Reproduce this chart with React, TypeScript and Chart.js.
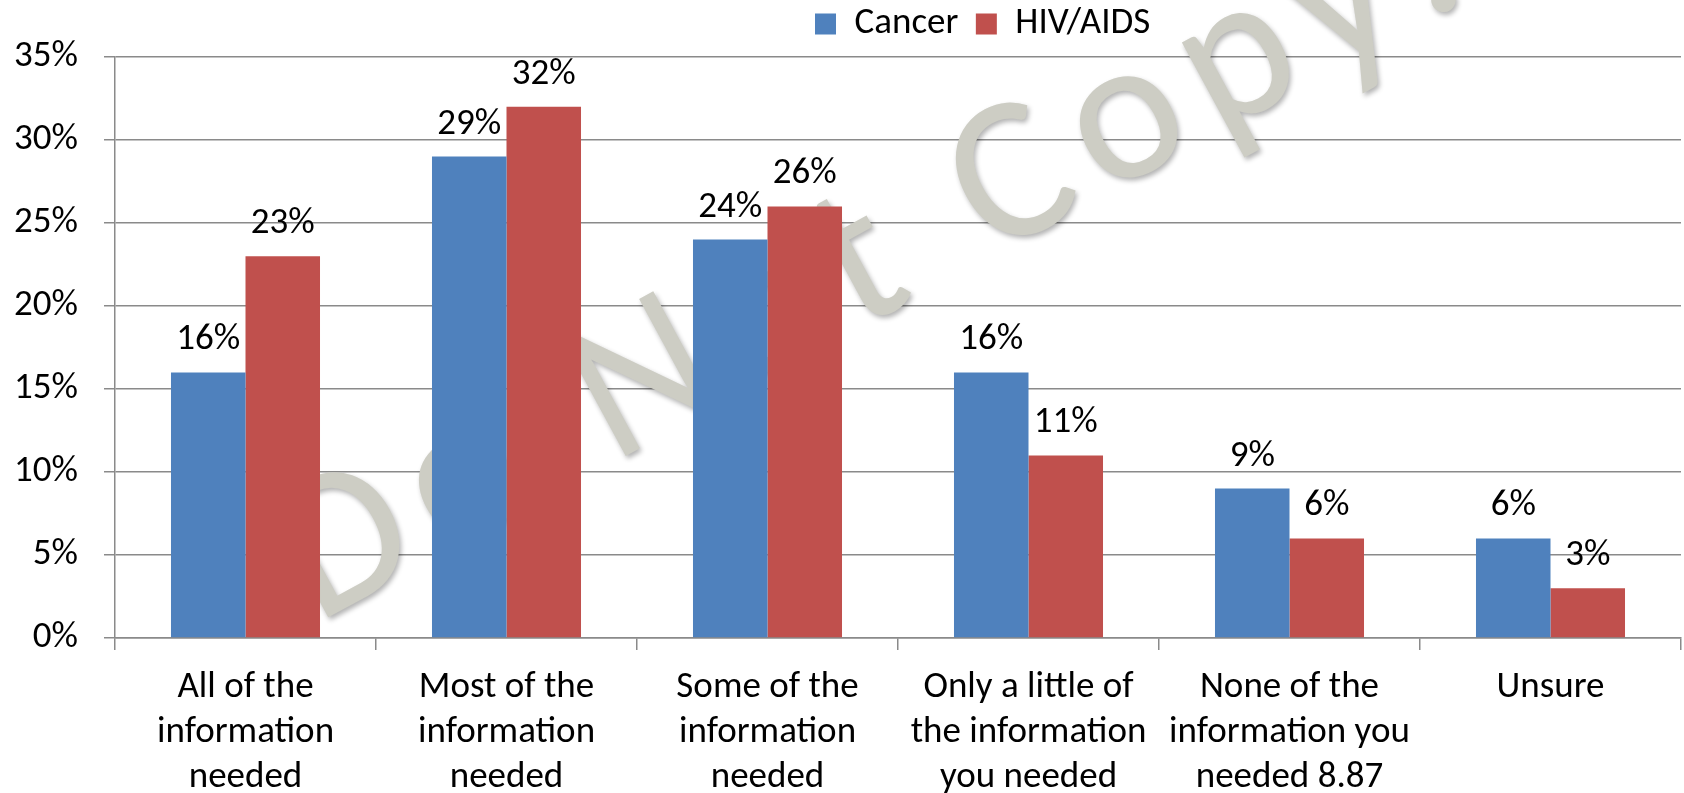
import React, { useEffect, useRef } from "react";
import { Chart, registerables } from "chart.js";

Chart.register(...registerables);

// ---- data ----
const categories: string[][] = [
  ["All of the", "information", "needed"],
  ["Most of the", "information", "needed"],
  ["Some of the", "information", "needed"],
  ["Only a little of", "the information", "you needed"],
  ["None of the", "information you", "needed 8.87"],
  ["Unsure"],
];
const seriesNames = ["Cancer", "HIV/AIDS"];
const cancerValues = [16, 29, 24, 16, 9, 6];
const hivValues = [23, 32, 26, 11, 6, 3];
const yMin = 0;
const yMax = 35;
const yStep = 5;
const watermarkText = "Do Not Copy.";

// ---- styles ----
const FONT = "Carlito, 'Liberation Sans', Arial, sans-serif";
const FS = 37;
const BLUE = "#4F81BD";
const RED = "#C0504D";
const GRID = "#8A8A8A";
const LEGEND_PAD = 17.5;

const watermarkPlugin = {
  id: "watermark",
  beforeDatasetsDraw(chart: any) {
    const ctx = chart.ctx;
    ctx.save();
    ctx.font = `205px ${FONT}`;
    ctx.translate(316, 624);
    ctx.rotate((-28.5 * Math.PI) / 180);
    ctx.fillStyle = "#CDCDC4";
    ctx.shadowColor = "rgba(0,0,0,0.30)";
    ctx.shadowBlur = 5;
    ctx.shadowOffsetX = 2;
    ctx.shadowOffsetY = 3;
    ctx.textAlign = "left";
    ctx.textBaseline = "alphabetic";
    let x = 0;
    for (const ch of watermarkText) {
      ctx.fillText(ch, x, 0);
      x += ctx.measureText(ch).width + 19;
    }
    ctx.restore();
  },
};

const valueLabelPlugin = {
  id: "valueLabels",
  afterDatasetsDraw(chart: any) {
    const ctx = chart.ctx;
    ctx.save();
    ctx.font = `${FS}px ${FONT}`;
    ctx.fillStyle = "#000";
    ctx.textAlign = "center";
    ctx.textBaseline = "alphabetic";
    chart.data.datasets.forEach((ds: any, di: number) => {
      const meta = chart.getDatasetMeta(di);
      meta.data.forEach((bar: any, i: number) => {
        ctx.fillText(`${ds.data[i]}%`, bar.x, bar.y - 23);
      });
    });
    ctx.restore();
  },
};

const legendPlacePlugin = {
  id: "legendPlace",
  afterLayout(chart: any) {
    const lg = chart.legend;
    if (!lg || !lg.lineWidths) return;
    const lw = lg.lineWidths[0];
    const x0 = (lg.left + LEGEND_PAD + lg.right - lw) / 2;
    const dx = 815 - x0;
    lg.left += dx;
    lg.right += dx;
    const h = lg.bottom - lg.top;
    lg.top = 24 - LEGEND_PAD - FS / 2;
    lg.bottom = lg.top + h;
  },
};

export default function App() {
  const canvasRef = useRef<HTMLCanvasElement | null>(null);

  useEffect(() => {
    if (!canvasRef.current) return;
    Chart.defaults.color = "#000";
    const chart = new Chart(canvasRef.current, {
      type: "bar",
      data: {
        labels: categories,
        datasets: [
          {
            label: seriesNames[0],
            data: cancerValues,
            backgroundColor: BLUE,
            borderWidth: 0,
            categoryPercentage: 0.571,
            barPercentage: 1,
          },
          {
            label: seriesNames[1],
            data: hivValues,
            backgroundColor: RED,
            borderWidth: 0,
            categoryPercentage: 0.571,
            barPercentage: 1,
          },
        ],
      },
      options: {
        animation: false,
        responsive: false,
        layout: { padding: { left: 0, right: 3, top: 0, bottom: 0 } },
        plugins: {
          legend: {
            position: "top",
            maxHeight: 57,
            labels: {
              font: { family: FONT, size: FS },
              color: "#000",
              boxWidth: 21,
              boxHeight: 21,
              padding: LEGEND_PAD,
            },
          },
          tooltip: { enabled: false },
        },
        scales: {
          x: {
            offset: true,
            grid: {
              offset: true,
              drawOnChartArea: false,
              drawTicks: true,
              tickLength: 12,
              color: GRID,
              lineWidth: 1.5,
            },
            border: { color: GRID, width: 1.5 },
            ticks: {
              font: { family: FONT, size: FS, lineHeight: 1.216 },
              color: "#000",
              padding: 15,
              maxRotation: 0,
              autoSkip: false,
            },
            afterFit: (s: any) => {
              s.height = 155;
            },
          },
          y: {
            min: yMin,
            max: yMax,
            ticks: {
              stepSize: yStep,
              callback: (v: any) => `${v}%`,
              font: { family: FONT, size: FS },
              color: "#000",
              padding: 26,
            },
            grid: { color: GRID, lineWidth: 1.5, tickLength: 11 },
            border: { color: GRID, width: 1.5 },
            afterFit: (s: any) => {
              s.width = 115;
            },
          },
        },
      },
      plugins: [watermarkPlugin, valueLabelPlugin, legendPlacePlugin],
    } as any);
    return () => chart.destroy();
  }, []);

  return (
    <div style={{ position: "absolute", left: 0, top: 0, width: 1684, height: 793, background: "#fff" }}>
      <canvas ref={canvasRef} width={1684} height={793} />
    </div>
  );
}
